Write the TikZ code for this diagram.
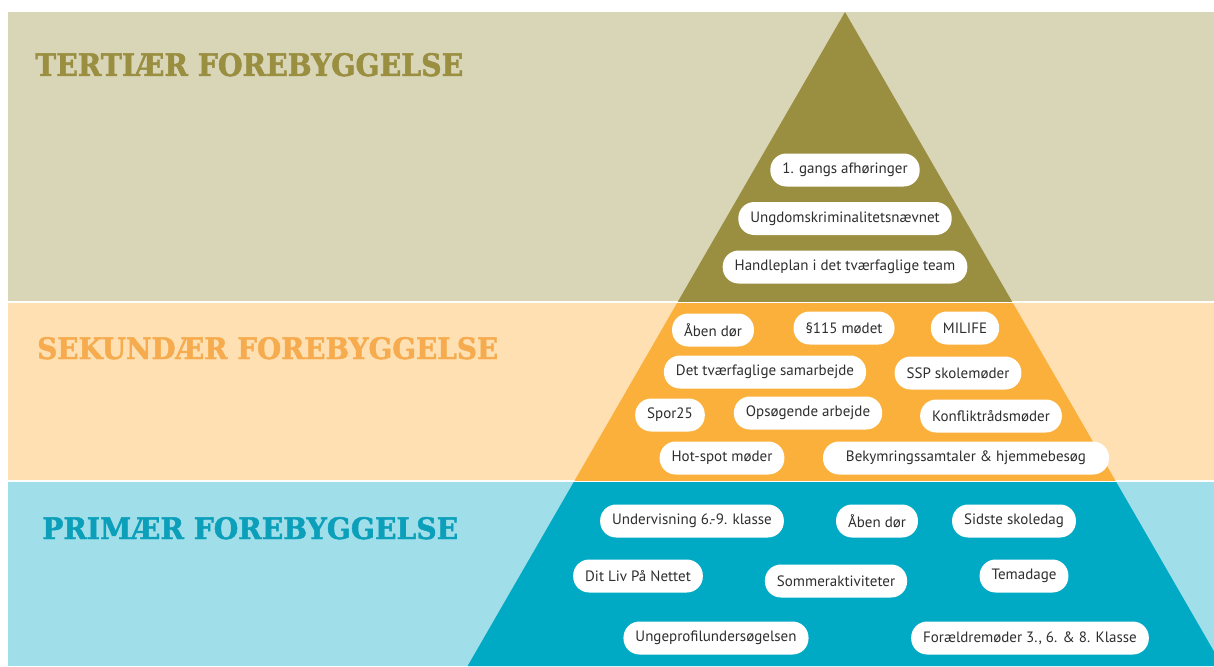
\documentclass[tikz,border=0pt]{standalone}
\usepackage{fontspec}
\setmainfont{DejaVu Serif}
\newfontfamily\titlefont[FakeBold=1.6]{DejaVu Serif Bold}
\newfontfamily\pillfont{PT Sans}
\usepackage{graphicx}
\usetikzlibrary{positioning}
\definecolor{tertbg}{HTML}{D9D5B7}
\definecolor{tertdark}{HTML}{9A8E40}
\definecolor{sekbg}{HTML}{FEE0B2}
\definecolor{sekdark}{HTML}{FBB03B}
\definecolor{sektitle}{HTML}{F6AC4E}
\definecolor{primbg}{HTML}{A0DEEA}
\definecolor{primdark}{HTML}{00AAC4}
\definecolor{primtitle}{HTML}{0B9FBA}
\definecolor{pilltext}{HTML}{2E2E2E}
\tikzstyle{pill} = [
rectangle,
rounded corners=16pt,
fill=white,
minimum height=33pt,
inner xsep=12pt,
text=pilltext,
font=\pillfont\fontsize{15}{17}\selectfont
]
\tikzstyle{bandtitle} = [
anchor=base west,
inner sep=0pt,
font=\titlefont
]
\newcommand{\titletext}[3]{\resizebox{#1}{#2}{#3}}

\begin{document}
\begin{tikzpicture}[x=1pt,y=-1pt]
	\useasboundingbox (0,0) rectangle (1214,666);
	%Bands
	\fill[tertbg] (8,12) rectangle (1214,301);
	\fill[sekbg] (8,303) rectangle (1214,480);
	\fill[primbg] (8,482) rectangle (1214,666);
	%Pyramid
	\begin{scope}
		\clip (8,12) rectangle (1214,301);
		\fill[tertdark] (845,12) -- (467.6,666) -- (1222.4,666) -- cycle;
	\end{scope}
	\begin{scope}
		\clip (8,303) rectangle (1214,480);
		\fill[sekdark] (845,12) -- (467.6,666) -- (1222.4,666) -- cycle;
	\end{scope}
	\begin{scope}
		\clip (8,482) rectangle (1214,666);
		\fill[primdark] (845,12) -- (467.6,666) -- (1222.4,666) -- cycle;
	\end{scope}
	%Titles
	\node[bandtitle,text=tertdark] (terttitle) at (35,76) {\titletext{428pt}{23pt}{TERTIÆR FOREBYGGELSE}};
	\node[bandtitle,text=sektitle] (sektitle) at (37,359) {\titletext{461pt}{22pt}{SEKUNDÆR FOREBYGGELSE}};
	\node[bandtitle,text=primtitle] (primtitle) at (42,539) {\titletext{416pt}{22pt}{PRIMÆR FOREBYGGELSE}};
	%Tertiary
	\node[pill] (tert1) at (845,170) {1. gangs afhøringer};
	\node[pill] (tert2) at (845,218.5) {Ungdomskriminalitetsnævnet};
	\node[pill] (tert3) at (845,267) {Handleplan i det tværfaglige team};
	%Secondary
	\node[pill] (sek1) at (713,330) {Åben dør};
	\node[pill] (sek2) at (844,328) {§115 mødet};
	\node[pill] (sek3) at (965,328) {MILIFE};
	\node[pill] (sek4) at (765,372) {Det tværfaglige samarbejde};
	\node[pill] (sek5) at (958,373) {SSP skolemøder};
	\node[pill] (sek6) at (670,415) {Spor25};
	\node[pill] (sek7) at (808,413) {Opsøgende arbejde};
	\node[pill] (sek8) at (991,416) {Konfliktrådsmøder};
	\node[pill] (sek9) at (722,458) {Hot-spot møder};
	\node[pill,minimum width=286pt] (sek10) at (966,458) {Bekymringssamtaler \& hjemmebesøg};
	%Primary
	\node[pill] (prim1) at (692,521) {Undervisning 6.-9. klasse};
	\node[pill] (prim2) at (877,521) {Åben dør};
	\node[pill] (prim3) at (1014,521) {Sidste skoledag};
	\node[pill] (prim4) at (638,576) {Dit Liv På Nettet};
	\node[pill] (prim5) at (836,581) {Sommeraktiviteter};
	\node[pill] (prim6) at (1024,576) {Temadage};
	\node[pill] (prim7) at (716,638) {Ungeprofilundersøgelsen};
	\node[pill] (prim8) at (1030,638) {Forældremøder 3., 6. \& 8. Klasse};
\end{tikzpicture}
\end{document}
